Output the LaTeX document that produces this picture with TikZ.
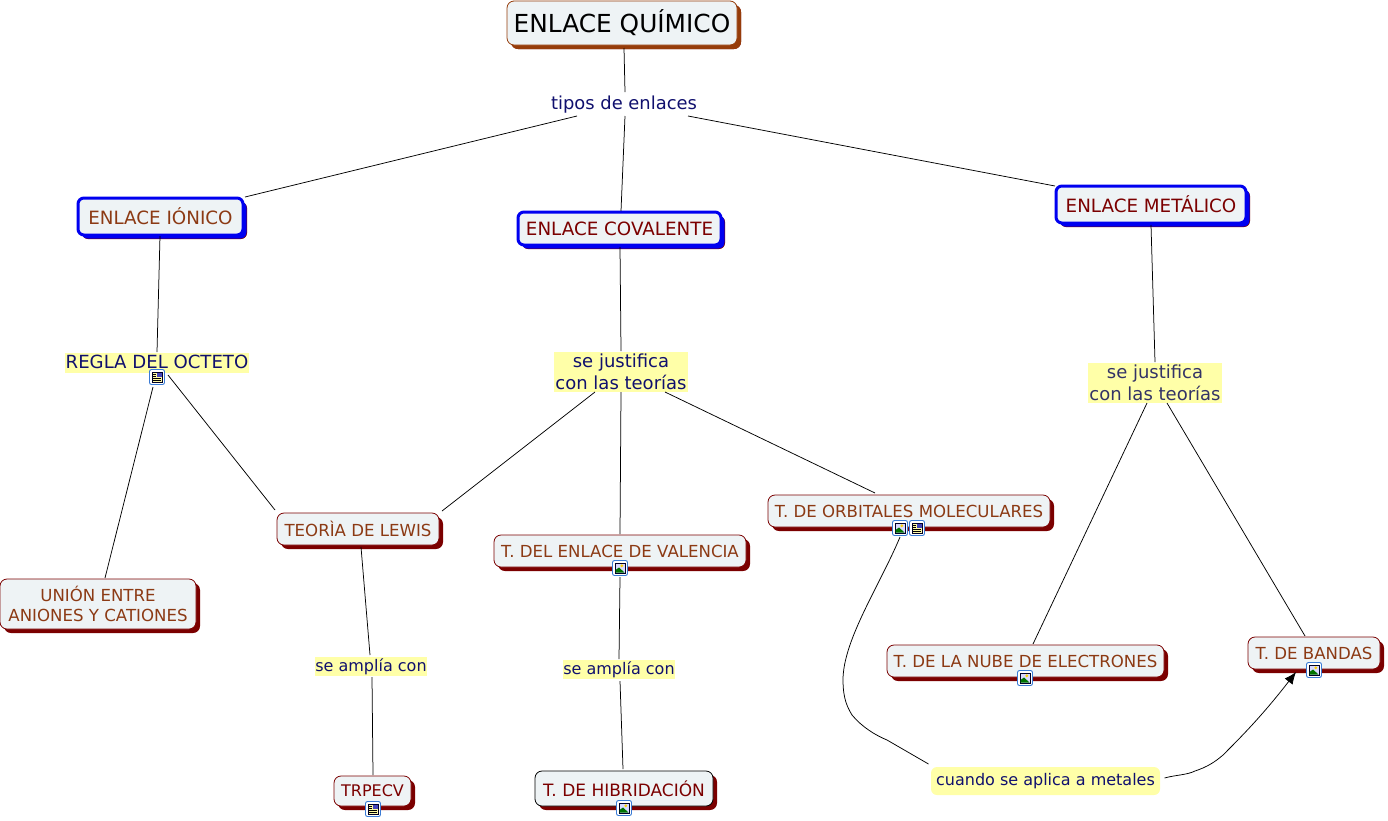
\documentclass[tikz,border=0pt]{standalone}
\usepackage{fontspec}
\setmainfont{DejaVu Sans}
\usetikzlibrary{calc,shadows,arrows.meta}
\definecolor{paper}{HTML}{EEF3F5}
\definecolor{brownb}{HTML}{963C0A}
\definecolor{darkr}{HTML}{7B0000}
\definecolor{txtbrown}{HTML}{8C3A14}
\definecolor{blueb}{HTML}{0000F0}
\definecolor{yel}{HTML}{FFFFA8}
\definecolor{navyt}{HTML}{10106E}
\definecolor{slatet}{HTML}{333366}
\definecolor{iconb}{HTML}{3A7BD5}
\tikzset{
 x=1pt,y=-1pt,
 concept/.style={draw=darkr,line width=0.8pt,fill=paper,rounded corners=7pt,inner sep=0pt,align=center,
   text=txtbrown,font=\fontsize{16.6}{20}\selectfont,
   general shadow={fill=darkr,shadow xshift=4pt,shadow yshift=-4pt}},
 mainc/.style={concept,draw=brownb,text=black,font=\fontsize{24.8}{28}\selectfont,
   general shadow={fill=brownb,shadow xshift=4pt,shadow yshift=-4pt}},
 bluec/.style={concept,draw=blueb,line width=3pt,font=\fontsize{18.3}{20}\selectfont,rounded corners=6pt,
   general shadow={fill=blueb,shadow xshift=3.5pt,shadow yshift=-3.5pt}},
 phrase/.style={fill=yel,inner sep=0pt,align=center,text=navyt,font=\fontsize{16}{21.5}\selectfont},
 link/.style={draw=black,line width=0.75pt},
 pics/imgicon/.style={code={
   \draw[iconb,line width=0.9pt,fill=white,rounded corners=2pt] (-7.5,-7.5) rectangle (7.5,7.5);
   \fill[black!85!blue] (-5.5,-5.5) rectangle (5.5,5.5);
   \fill[white!85!blue] (-4.5,-4.5) rectangle (4.5,4.5);
   \fill[yellow!70!orange] (1.8,-2.2) circle (1.6);
   \fill[green!45!black] (-4.5,4.5) -- (-4.5,2) -- (-1,-0.5) -- (4.5,4.5) -- cycle;
 }},
 pics/docicon/.style={code={
   \draw[iconb,line width=0.9pt,fill=white,rounded corners=2pt] (-7.5,-7.5) rectangle (7.5,7.5);
   \fill[black!85!blue] (-5.5,-5.5) rectangle (5.5,5.5);
   \fill[yellow!35] (-4.5,-4.5) rectangle (4.5,4.5);
   \fill[blue!45!gray] (0.2,-4.5) rectangle (4.5,-0.5);
   \draw[black,line width=0.8pt] (-3.8,-3) -- (-1,-3) (-3.8,-1) -- (-1,-1) (-3.8,1) -- (3.8,1) (-3.8,3) -- (3.8,3);
 }},
}
\newcommand{\conn}[6]{\draw[link] ($(#1.center)+(#2,#3)$) -- ($(#4.center)+(#5,#6)$);}
\begin{document}
\begin{tikzpicture}
\useasboundingbox (0,0) rectangle (1388,820);
\fill[white] (0,0) rectangle (1388,820);
% concepts
\node[mainc,minimum width=230pt,minimum height=44pt] (main) at (622,23) {ENLACE QUÍMICO};
\node[bluec,minimum width=165pt,minimum height=37pt] (ion) at (160.5,216.5) {ENLACE IÓNICO};
\node[bluec,text=darkr,minimum width=203pt,minimum height=33pt] (cov) at (619.5,228.5) {ENLACE COVALENTE};
\node[bluec,text=darkr,minimum width=190pt,minimum height=37pt] (met) at (1151,204.5) {ENLACE METÁLICO};
\node[concept,minimum width=162pt,minimum height=32pt] (lewis) at (358,529) {TEORÌA DE LEWIS};
\node[concept,minimum width=252pt,minimum height=32pt] (val) at (620,551) {T. DEL ENLACE DE VALENCIA};
\node[concept,minimum width=282pt,minimum height=32pt] (orb) at (909,511) {T. DE ORBITALES MOLECULARES};
\node[concept,minimum width=196pt,minimum height=50pt] (union) at (98,604) {UNIÓN ENTRE\\ANIONES Y CATIONES};
\node[concept,minimum width=277pt,minimum height=32pt] (nube) at (1025.5,661) {T. DE LA NUBE DE ELECTRONES};
\node[concept,minimum width=132pt,minimum height=32pt] (band) at (1314,653) {T. DE BANDAS};
\node[concept,text=darkr,font=\fontsize{16}{20}\selectfont,minimum width=77pt,minimum height=30pt] (trp) at (372.5,791) {TRPECV};
\node[concept,draw=black,text=darkr,font=\fontsize{17}{20}\selectfont,minimum width=178pt,minimum height=35pt] (hib) at (624,788.5) {T. DE HIBRIDACIÓN};
% linking phrases
\node[inner sep=0pt,text=navyt,font=\fontsize{17.9}{20}\selectfont] (tipos) at (624,104.5) {tipos de enlaces};
\node[phrase,font=\fontsize{18.1}{20}\selectfont,minimum width=184pt,minimum height=20pt,text depth=3pt,text height=14pt] (regla) at (157,363) {REGLA DEL OCTETO};
\node[phrase,font=\fontsize{18}{21.5}\selectfont,minimum width=134pt,minimum height=40pt] (just) at (621,372) {se justifica\\con las teorías};
\node[phrase,text=slatet,font=\fontsize{18}{21.5}\selectfont,minimum width=134pt,minimum height=40pt] (mjust) at (1155,383) {se justifica\\con las teorías};
\node[phrase,minimum width=112pt,minimum height=19pt,text height=13pt,text depth=3pt] (amp1) at (371,666.5) {se amplía con};
\node[phrase,minimum width=112pt,minimum height=19pt,text height=13pt,text depth=3pt] (amp2) at (619,669.5) {se amplía con};
\node[phrase,rounded corners=6pt,minimum width=229pt,minimum height=28pt] (cuando) at (1045.5,781) {cuando se aplica a metales};
% connectors
\conn{main}{2}{25}{tipos}{1}{-12.5}
\conn{tipos}{-47}{11.5}{ion}{84.5}{-19.5}
\conn{tipos}{1}{11.5}{cov}{1.5}{-17.5}
\conn{tipos}{64}{11.5}{met}{-96}{-18.5}
\conn{ion}{-0.5}{19.5}{regla}{0}{-11}
\conn{regla}{-4}{24}{union}{7}{-26}
\conn{regla}{11}{12}{lewis}{-83}{-19}
\conn{cov}{0.5}{18.5}{just}{0}{-21}
\conn{just}{-26}{20}{lewis}{84}{-18}
\conn{just}{0}{20}{val}{0}{-17}
\conn{just}{44}{20}{orb}{-34}{-18}
\conn{lewis}{3}{18}{amp1}{-1}{-11.5}
\conn{amp1}{1}{10.5}{trp}{0.5}{-16}
\conn{val}{0}{26}{amp2}{0}{-10.5}
\conn{amp2}{1}{11.5}{hib}{-1}{-19.5}
\conn{met}{0}{20.5}{mjust}{0}{-21}
\conn{mjust}{-8}{20}{nube}{7.5}{-17}
\conn{mjust}{12}{20}{band}{-9}{-17}
\draw[link] ($(orb.center)+(-9,26)$) .. controls (880,585) and (843,640) .. (843,680)
  .. controls (843,700) and (848,708) .. (852,715)
  .. controls (862,727) and (875,735) .. (887,740)
  -- ($(cuando.center)+(-117,-17)$);
\draw[link,-{Latex[length=12pt,width=10pt]}] ($(cuando.center)+(119,-3)$) .. controls (1175,775) and (1187,775) .. (1195,771)
  .. controls (1207,767) and (1215,762) .. (1223,755)
  .. controls (1240,738) and (1262,716) .. ($(band.center)+(-18,19)$);
% resource icons
\pic at (157,377) {docicon};
\pic at (900,528) {imgicon};
\pic at (917,528) {docicon};
\pic at (620,568) {imgicon};
\pic at (1025,678) {imgicon};
\pic at (1314,670) {imgicon};
\pic at (373,809) {docicon};
\pic at (624,808) {imgicon};
\end{tikzpicture}
\end{document}
